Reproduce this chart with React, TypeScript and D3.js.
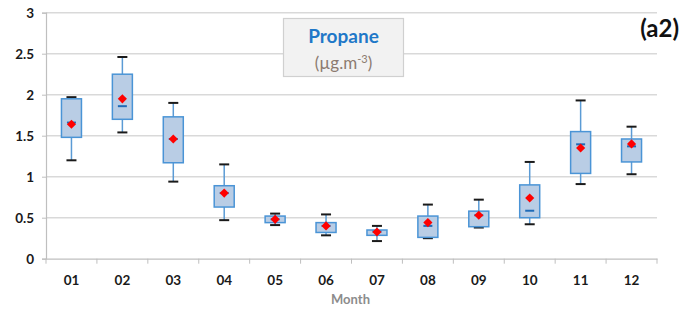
import React, { useEffect, useRef } from 'react';
import * as d3 from 'd3';

// Monthly propane box stats (µg.m-3)
const months = ['01', '02', '03', '04', '05', '06', '07', '08', '09', '10', '11', '12'];
const whiskerLow = [1.2, 1.54, 0.94, 0.47, 0.41, 0.285, 0.215, 0.25, 0.38, 0.42, 0.91, 1.03];
const q1 = [1.48, 1.7, 1.17, 0.63, 0.44, 0.32, 0.285, 0.26, 0.39, 0.5, 1.04, 1.18];
const medians = [1.66, 1.86, 1.46, 0.8, 0.48, 0.4, 0.33, 0.4, 0.53, 0.585, 1.395, 1.37];
const q3 = [1.95, 2.25, 1.73, 0.89, 0.52, 0.44, 0.35, 0.52, 0.58, 0.9, 1.55, 1.46];
const whiskerHigh = [1.97, 2.46, 1.9, 1.15, 0.55, 0.54, 0.4, 0.66, 0.72, 1.18, 1.93, 1.61];
const means = [1.64, 1.95, 1.46, 0.8, 0.48, 0.4, 0.326, 0.44, 0.53, 0.74, 1.35, 1.4];
const yTicks = [0, 0.5, 1, 1.5, 2, 2.5, 3];

const FONT = 'Lato, "Open Sans", sans-serif';

const App = () => {
  const svgRef = useRef<SVGSVGElement>(null);

  useEffect(() => {
    const svg = d3.select(svgRef.current);
    svg.selectAll('*').remove();

    const width = 680;
    const height = 312;
    const left = 46;
    const right = 657;
    const top = 12.7;
    const bottom = 258.7;

    const x = d3.scaleBand().domain(months).range([left, right]);
    const y = d3.scaleLinear().domain([0, 3]).range([bottom, top]);

    svg.attr('width', width).attr('height', height);

    // gridlines
    svg.append('g')
      .selectAll('line')
      .data(yTicks.filter(t => t > 0))
      .enter()
      .append('line')
      .attr('x1', left)
      .attr('x2', right)
      .attr('y1', d => y(d))
      .attr('y2', d => y(d))
      .attr('stroke', '#d9d9d9')
      .attr('stroke-width', 1.5);

    // Y axis
    const yAxis = svg.append('g')
      .attr('transform', `translate(${left},0)`)
      .call(d3.axisLeft(y).tickValues(yTicks).tickSize(4).tickPadding(8).tickFormat(d => String(d)));
    yAxis.select('.domain').attr('stroke', '#bfbfbf').attr('stroke-width', 1.2);
    yAxis.selectAll('.tick line').attr('stroke', '#bfbfbf');
    yAxis.selectAll('text')
      .style('font-family', FONT)
      .style('font-size', '13.5px')
      .style('font-weight', 'bold')
      .attr('fill', '#1a1a1a');

    // X axis
    const xAxis = svg.append('g')
      .attr('transform', `translate(0,${bottom})`)
      .call(d3.axisBottom(x).tickSize(0).tickPadding(17));
    xAxis.select('.domain').attr('stroke', '#bfbfbf').attr('stroke-width', 1.2);
    xAxis.selectAll('text')
      .style('font-family', FONT)
      .style('font-size', '13.5px')
      .style('font-weight', 'bold')
      .attr('fill', '#1a1a1a');
    xAxis.append('g')
      .selectAll('line')
      .data(d3.range(months.length + 1))
      .enter()
      .append('line')
      .attr('x1', i => left + i * x.step())
      .attr('x2', i => left + i * x.step())
      .attr('y1', 0)
      .attr('y2', 5)
      .attr('stroke', '#bfbfbf');

    svg.append('text')
      .attr('x', (left + right) / 2 - 1)
      .attr('y', 304)
      .attr('text-anchor', 'middle')
      .style('font-family', FONT)
      .style('font-size', '13px')
      .style('font-weight', 'bold')
      .attr('fill', '#8c8c8c')
      .text('Month');

    // boxes
    const boxW = 20;
    const capW = 10;
    const diamond = d3.symbol().type(d3.symbolSquare).size(42)();
    const g = svg.append('g');
    months.forEach((m, i) => {
      const cx = x(m)! + x.bandwidth() / 2;
      g.append('line')
        .attr('x1', cx).attr('x2', cx)
        .attr('y1', y(whiskerHigh[i])).attr('y2', y(whiskerLow[i]))
        .attr('stroke', '#5b9bd5').attr('stroke-width', 1.5);
      [whiskerHigh[i], whiskerLow[i]].forEach(v => {
        g.append('line')
          .attr('x1', cx - capW / 2).attr('x2', cx + capW / 2)
          .attr('y1', y(v)).attr('y2', y(v))
          .attr('stroke', '#1a1a1a').attr('stroke-width', 2);
      });
      g.append('rect')
        .attr('x', cx - boxW / 2)
        .attr('y', y(q3[i]))
        .attr('width', boxW)
        .attr('height', y(q1[i]) - y(q3[i]))
        .attr('fill', '#b9cde5')
        .attr('stroke', '#4a94d6')
        .attr('stroke-width', 1.5);
      g.append('line')
        .attr('x1', cx - 4.5).attr('x2', cx + 4.5)
        .attr('y1', y(medians[i])).attr('y2', y(medians[i]))
        .attr('stroke', '#1f6bb8').attr('stroke-width', 2);
      g.append('path')
        .attr('d', diamond)
        .attr('transform', `translate(${cx},${y(means[i])}) rotate(45)`)
        .attr('fill', '#ff0000');
    });

    // title box
    const tb = svg.append('g');
    tb.append('rect')
      .attr('x', 283.5).attr('y', 18.5)
      .attr('width', 120).attr('height', 58)
      .attr('fill', '#f2f2f2')
      .attr('stroke', '#d0d0d0')
      .attr('stroke-width', 1.2);
    tb.append('text')
      .attr('x', 343.5).attr('y', 43)
      .attr('text-anchor', 'middle')
      .style('font-family', FONT)
      .style('font-size', '19px')
      .style('font-weight', 'bold')
      .attr('fill', '#1f78c8')
      .text('Propane');
    const unit = tb.append('text')
      .attr('x', 343.5).attr('y', 69)
      .attr('text-anchor', 'middle')
      .style('font-family', FONT)
      .style('font-size', '17px')
      .attr('fill', '#8c7b70');
    unit.append('tspan').text('(µg.m');
    unit.append('tspan').attr('dy', -6).style('font-size', '11px').text('-3');
    unit.append('tspan').attr('dy', 6).text(')');

    svg.append('text')
      .attr('x', 679)
      .attr('y', 37)
      .attr('text-anchor', 'end')
      .style('font-family', FONT)
      .style('font-size', '24px')
      .style('font-weight', 'bold')
      .attr('fill', '#111')
      .text('(a2)');
  }, []);

  return <svg ref={svgRef} style={{ position: 'absolute', left: 0, top: 0, background: '#fff' }} />;
};

export default App;
